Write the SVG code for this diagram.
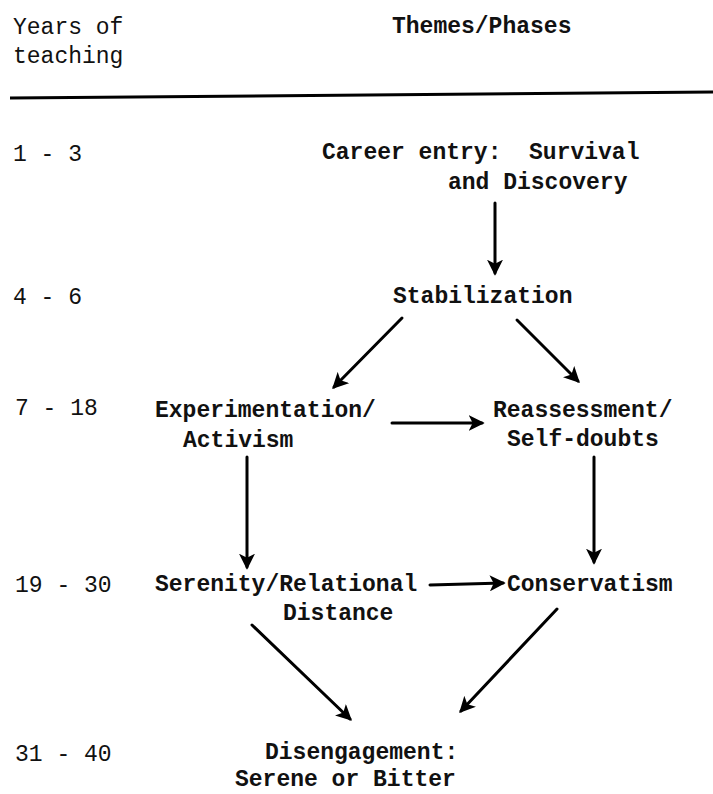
<svg xmlns="http://www.w3.org/2000/svg" width="713" height="794" viewBox="0 0 713 794">
  <style>
    text { font-family: "Liberation Mono", "DejaVu Sans Mono", monospace; font-size: 23px; fill: #111; white-space: pre; }
    .hdr { font-weight: normal; }
    .lbl { font-weight: bold; }
    .yr { font-weight: normal; }
    .conn line { stroke: #000; stroke-width: 3; stroke-linecap: round; marker-end: url(#ah); }
  </style>
  <defs>
    <marker id="ah" viewBox="0 0 12 12" refX="10" refY="6" markerWidth="16" markerHeight="16" markerUnits="userSpaceOnUse" orient="auto">
      <path d="M0,0 L12,6 L0,12 L3,6 z" fill="#000"/>
    </marker>
  </defs>
  <rect width="713" height="794" fill="#fff"/>

  <g id="header">
    <text class="hdr" x="13" y="34">Years of</text>
    <text class="hdr" x="13" y="63">teaching</text>
    <text class="lbl" x="392" y="33">Themes/Phases</text>
    <line x1="10" y1="98" x2="713" y2="92" stroke="#000" stroke-width="3"/>
  </g>

  <g id="years">
    <text class="yr" x="13" y="161">1 - 3</text>
    <text class="yr" x="13" y="304">4 - 6</text>
    <text class="yr" x="15" y="415">7 - 18</text>
    <text class="yr" x="15" y="592">19 - 30</text>
    <text class="yr" x="15" y="761">31 - 40</text>
  </g>

  <g id="career-entry">
    <text class="lbl" x="322" y="159" xml:space="preserve">Career entry:  Survival</text>
    <text class="lbl" x="448" y="189">and Discovery</text>
  </g>
  <g id="stabilization">
    <text class="lbl" x="393" y="303">Stabilization</text>
  </g>
  <g id="experimentation">
    <text class="lbl" x="155" y="417">Experimentation/</text>
    <text class="lbl" x="183" y="447">Activism</text>
  </g>
  <g id="reassessment">
    <text class="lbl" x="493" y="417">Reassessment/</text>
    <text class="lbl" x="507" y="446">Self-doubts</text>
  </g>
  <g id="serenity">
    <text class="lbl" x="155" y="591">Serenity/Relational</text>
    <text class="lbl" x="283" y="620">Distance</text>
  </g>
  <g id="conservatism">
    <text class="lbl" x="507" y="591">Conservatism</text>
  </g>
  <g id="disengagement">
    <text class="lbl" x="265" y="759">Disengagement:</text>
    <text class="lbl" x="235" y="786">Serene or Bitter</text>
  </g>

  <g id="connectors" class="conn">
    <line x1="495" y1="203" x2="495" y2="273"/>
    <line x1="402" y1="318" x2="334" y2="387"/>
    <line x1="517" y1="320" x2="578" y2="381"/>
    <line x1="392" y1="423" x2="482" y2="423"/>
    <line x1="247" y1="457" x2="247" y2="567"/>
    <line x1="594" y1="457" x2="594" y2="562"/>
    <line x1="430" y1="585" x2="503" y2="583"/>
    <line x1="252" y1="625" x2="350" y2="719"/>
    <line x1="557" y1="609" x2="461" y2="711"/>
  </g>
</svg>
